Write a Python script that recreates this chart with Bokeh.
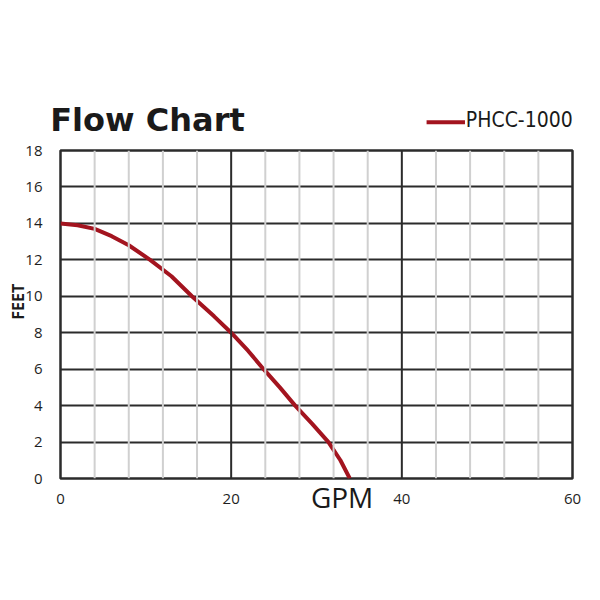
import math
from bokeh.plotting import figure
from bokeh.models import FixedTicker, Range1d, Span
from bokeh.core.properties import value
from bokeh.embed import file_html
from bokeh.resources import INLINE

# data
gpm = [0, 2, 4, 6, 8, 10.5, 13, 15.4, 18, 20, 22, 23.8, 25.7, 27.5, 29.5, 31.4, 32.8, 33.9]
feet = [14, 13.9, 13.7, 13.3, 12.8, 12, 11.1, 10, 8.9, 8, 7, 6, 5, 4, 3, 2, 1, 0]
x_ticks = [0, 20, 40, 60]
y_ticks = [0, 2, 4, 6, 8, 10, 12, 14, 16, 18]
minor_x = [4, 8, 12, 16, 24, 28, 32, 36, 44, 48, 52, 56]
series_name = "PHCC-1000"

RED = "#a3141f"
DARK = "#2b2b2b"

p = figure(width=584, height=584, output_backend="svg", toolbar_location=None,
           x_range=Range1d(0, 60), y_range=Range1d(0, 18),
           min_border_left=60, min_border_right=12, min_border_top=150, min_border_bottom=106)
p.background_fill_color = "white"
p.border_fill_color = "white"
p.outline_line_color = DARK
p.outline_line_width = 2.5

for ax in (p.xaxis[0], p.yaxis[0]):
    ax.axis_line_color = None
    ax.major_tick_line_color = None
    ax.minor_tick_line_color = None
    ax.major_label_text_font = "Open Sans"
    ax.major_label_text_font_size = "15px"
    ax.major_label_text_color = "#1e1e1e"
p.xaxis.ticker = FixedTicker(ticks=x_ticks)
p.yaxis.ticker = FixedTicker(ticks=y_ticks)
p.xaxis.major_label_standoff = 9
p.yaxis.major_label_standoff = 12

p.xgrid.visible = False
p.ygrid.ticker = FixedTicker(ticks=y_ticks)
p.ygrid.grid_line_color = DARK
p.ygrid.grid_line_width = 2

for xv in minor_x:
    p.add_layout(Span(location=xv, dimension="height", line_color="#d0d0d0", line_width=2))
for xv in [20, 40]:
    p.add_layout(Span(location=xv, dimension="height", line_color=DARK, line_width=2))

p.line(gpm, feet, line_color=RED, line_width=4)

# title
t = p.text(x=[-1.2], y=[19.7], text=["Flow Chart"], text_font=value("DejaVu Sans"),
           text_font_style="bold", text_font_size="32px", text_color="#1a1a1a",
           text_baseline="alphabetic")
t.level = "overlay"
# legend
lg = p.line([42.9, 47.4], [19.55, 19.55], line_color=RED, line_width=4)
lg.level = "overlay"
lt = p.text(x=[47.5], y=[19.7], text=[series_name], text_font=value("DejaVu Sans Condensed"),
            text_font_size="21px", text_color="#1a1a1a", text_baseline="alphabetic")
lt.level = "overlay"
# axis labels
g = p.text(x=[33], y=[-1.0], text=["GPM"], text_font=value("Open Sans"),
           text_font_size="28px", text_color="#1a1a1a", text_align="center",
           text_baseline="alphabetic")
g.level = "overlay"
f = p.text(x=[-5.0], y=[9.7], text=["FEET"], text_font=value("Open Sans"), text_font_style="bold",
           text_font_size="16px", text_color="#1a1a1a", text_align="center",
           text_baseline="middle", angle=math.pi / 2)
f.level = "overlay"

open("out.html", "w").write(file_html(p, INLINE))
